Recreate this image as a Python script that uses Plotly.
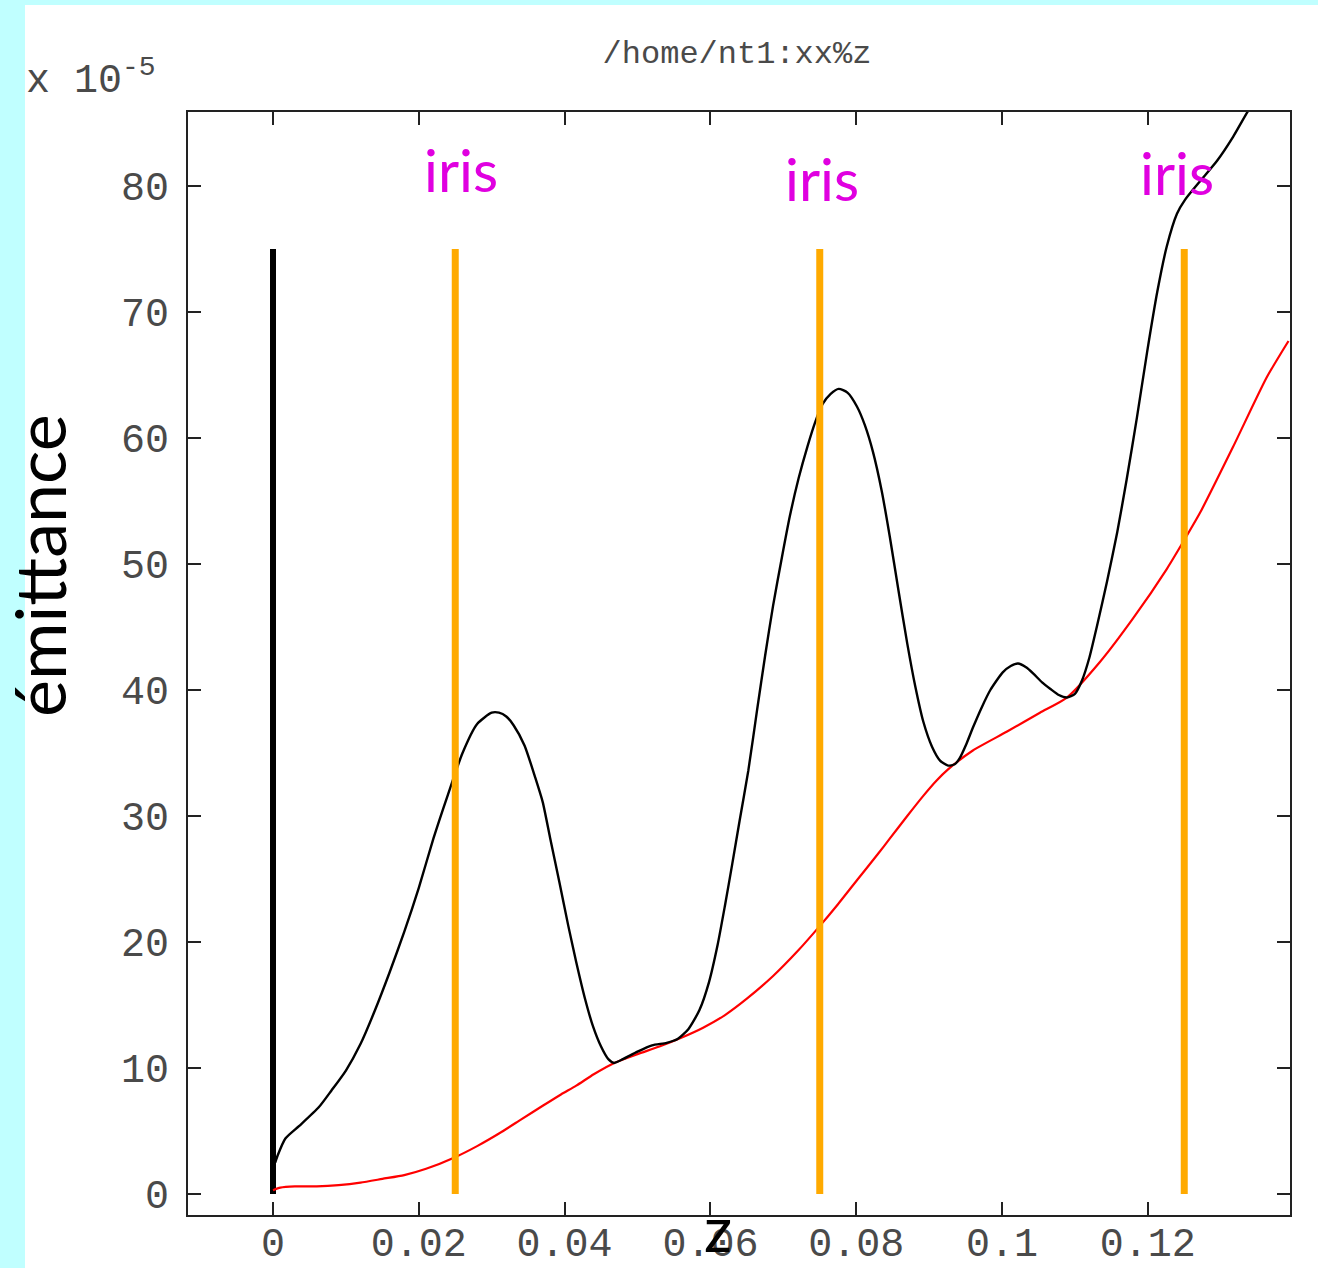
import plotly.graph_objects as go

# ---- data (emittance in units of 1e-5) ----
black_z = [0.0003, 0.0006, 0.0017, 0.0036, 0.0063, 0.0080, 0.0100, 0.0120, 0.0140, 0.0160,
           0.0180, 0.0200, 0.0220, 0.0240, 0.0260, 0.0280, 0.0300, 0.0310, 0.0320, 0.0330,
           0.0345, 0.0360, 0.0370, 0.0380, 0.0393, 0.0405, 0.0416, 0.0428, 0.0439, 0.0450,
           0.0460, 0.0468, 0.0480, 0.0500, 0.0520, 0.0540, 0.0555, 0.0570, 0.0585, 0.0598,
           0.0610, 0.0620, 0.0630, 0.0640, 0.0652, 0.0664, 0.0675, 0.0686, 0.0698, 0.0709,
           0.0721, 0.0733, 0.0744, 0.0754, 0.0765, 0.0776, 0.0788, 0.0801, 0.0812, 0.0823,
           0.0835, 0.0846, 0.0858, 0.0870, 0.0881, 0.0892, 0.0904, 0.0915, 0.0926, 0.0935,
           0.0942, 0.0951, 0.0960, 0.0972, 0.0984, 0.1001, 0.1012, 0.1022, 0.1033, 0.1043,
           0.1055, 0.1066, 0.1078, 0.1089, 0.1100, 0.1110, 0.1120, 0.1130, 0.1144, 0.1158,
           0.1171, 0.1185, 0.1199, 0.1213, 0.1226, 0.1240, 0.1251, 0.1272, 0.1295, 0.1317,
           0.1337, 0.1350]
black_e = [2.5, 3.0, 4.4, 5.4, 6.9, 8.2, 9.8, 11.9, 14.6, 17.6,
           20.8, 24.3, 28.2, 31.7, 35.0, 37.3, 38.2, 38.2, 37.9, 37.2,
           35.6, 33.0, 31.1, 28.3, 24.7, 21.3, 18.4, 15.5, 13.3, 11.7,
           10.7, 10.4, 10.7, 11.3, 11.8, 12.0, 12.3, 13.1, 14.6, 16.8,
           19.8, 22.9, 26.2, 29.6, 33.6, 38.4, 42.7, 46.7, 50.5, 53.8,
           56.8, 59.3, 61.3, 62.7, 63.5, 63.9, 63.6, 62.5, 61.0, 58.9,
           55.8, 52.2, 47.9, 43.7, 40.3, 37.5, 35.5, 34.4, 34.0, 34.1,
           34.6, 35.7, 37.0, 38.6, 40.0, 41.4, 41.9, 42.1, 41.8, 41.3,
           40.6, 40.1, 39.6, 39.4, 39.7, 40.8, 42.6, 45.0, 48.6, 52.5,
           56.7, 61.6, 66.8, 71.6, 75.2, 77.8, 78.9, 80.4, 82.0, 83.9,
           85.9, 87.0]

red_z = [0.0000, 0.0010, 0.0030, 0.0060, 0.0090, 0.0120, 0.0150, 0.0180, 0.0210, 0.0249,
         0.0280, 0.0310, 0.0340, 0.0370, 0.0395, 0.0416, 0.0440, 0.0468, 0.0500, 0.0530,
         0.0560, 0.0590, 0.0620, 0.0650, 0.0686, 0.0720, 0.0749, 0.0775, 0.0801, 0.0830,
         0.0846, 0.0870, 0.0892, 0.0910, 0.0926, 0.0960, 0.1007, 0.1052, 0.1089, 0.1134,
         0.1180, 0.1226, 0.1251, 0.1272, 0.1317, 0.1363, 0.1393]
red_e = [0.3, 0.5, 0.6, 0.6, 0.7, 0.9, 1.2, 1.5, 2.0, 2.9,
         3.8, 4.8, 5.9, 7.0, 7.9, 8.6, 9.5, 10.4, 11.1, 11.7,
         12.4, 13.2, 14.2, 15.5, 17.3, 19.3, 21.2, 23.0, 24.9, 27.0,
         28.2, 30.0, 31.6, 32.8, 33.7, 35.2, 36.7, 38.2, 39.4, 42.2,
         45.7, 49.6, 52.0, 54.1, 59.3, 64.8, 67.7]

source_z = [0.0]
iris_z = [0.025, 0.075, 0.125]
marker_bottom = 0
marker_top = 75

x_ticks = [0, 0.02, 0.04, 0.06, 0.08, 0.1, 0.12]
x_ticktext = ["0", "0.02", "0.04", "0.06", "0.08", "0.1", "0.12"]
y_ticks = [0, 10, 20, 30, 40, 50, 60, 70, 80]

CYAN = "#C0FFFF"
ORANGE = "#FFAA00"
MAGENTA = "#E000E0"
MONO = "Liberation Mono, DejaVu Sans Mono, monospace"
SANS = "Lato, Open Sans, sans-serif"
TICKC = "#4a4a4a"

fig = go.Figure()

for z in source_z:
    fig.add_trace(go.Scatter(x=[z, z], y=[marker_bottom, marker_top], mode="lines",
                             line=dict(color="black", width=6), showlegend=False,
                             hoverinfo="skip"))

fig.add_trace(go.Scatter(x=red_z, y=red_e, mode="lines",
                         line=dict(color="#FF0000", width=2.2, shape="spline", smoothing=0.6),
                         showlegend=False))
fig.add_trace(go.Scatter(x=black_z, y=black_e, mode="lines",
                         line=dict(color="black", width=2.4, shape="spline", smoothing=0.6),
                         showlegend=False))

for z in iris_z:
    fig.add_trace(go.Scatter(x=[z, z], y=[marker_bottom, marker_top], mode="lines",
                             line=dict(color=ORANGE, width=7), showlegend=False,
                             hoverinfo="skip"))

iris_label_pos = [(0.0258, 81.3), (0.0753, 80.6), (0.1240, 81.1)]
for (lx, ly) in iris_label_pos:
    fig.add_annotation(x=lx, y=ly, xref="x", yref="y", text="iris", showarrow=False,
                       font=dict(family=SANS, size=58, color=MAGENTA),
                       xanchor="center", yanchor="middle")

W, H = 1318, 1268
L, R, T, B = 188, 28, 112, 53
pw, ph = W - L - R, H - T - B

def px_x(p):
    return (p - L) / pw

def px_y(p):
    return 1 - (p - T) / ph

fig.add_shape(type="rect", xref="paper", yref="paper", x0=px_x(0), x1=px_x(25),
              y0=px_y(H + 5), y1=px_y(0), fillcolor=CYAN, line=dict(width=0), layer="below")
fig.add_shape(type="rect", xref="paper", yref="paper", x0=px_x(0), x1=px_x(W),
              y0=px_y(5), y1=px_y(0), fillcolor=CYAN, line=dict(width=0), layer="below")

fig.add_annotation(xref="paper", yref="paper", x=px_x(24), y=px_y(78), text="x 10<sup>-5</sup>",
                   showarrow=False, xanchor="left", yanchor="middle",
                   font=dict(family=MONO, size=40, color=TICKC))
fig.add_annotation(xref="paper", yref="paper", x=px_x(39), y=px_y(566), text="émittance",
                   textangle=-90, showarrow=False, xanchor="center", yanchor="middle",
                   font=dict(family=SANS, size=70, color="black"))
fig.add_annotation(xref="paper", yref="paper", x=px_x(718), y=px_y(1267), text="z",
                   showarrow=False, xanchor="center", yanchor="bottom",
                   font=dict(family=SANS, size=62, color="black"))

fig.update_layout(
    width=W, height=H, autosize=False,
    margin=dict(l=L, r=R, t=T, b=B, autoexpand=False),
    paper_bgcolor="white", plot_bgcolor="white",
    title=dict(text="/home/nt1:xx%z", x=px_x(737), xref="paper", xanchor="center",
               y=1 - 52 / H, yref="container", yanchor="middle",
               font=dict(family=MONO, size=32, color=TICKC)),
    showlegend=False,
)
fig.update_xaxes(range=[(L - 273) / 7290, (W - R - 273) / 7290],
                 tickvals=x_ticks, ticktext=x_ticktext, automargin=False,
                 ticks="inside", ticklen=13, tickwidth=2, tickcolor="#222",
                 ticklabelstandoff=-9,
                 showline=True, linecolor="#222", linewidth=2, mirror="ticks",
                 showgrid=False, zeroline=False,
                 tickfont=dict(family=MONO, size=40, color=TICKC))
fig.update_yaxes(range=[-(1215 - 1194) / 12.6, (1194 - 112) / 12.6],
                 tickvals=y_ticks, automargin=False,
                 ticks="inside", ticklen=13, tickwidth=2, tickcolor="#222",
                 ticklabelstandoff=9,
                 showline=True, linecolor="#222", linewidth=2, mirror="ticks",
                 showgrid=False, zeroline=False,
                 tickfont=dict(family=MONO, size=40, color=TICKC))

js = (
    "document.body.style.margin='0px';"
    "document.body.style.overflow='hidden';"
)
fig.write_html("out.html",
               config={"displayModeBar": False, "responsive": False},
               post_script=js)
